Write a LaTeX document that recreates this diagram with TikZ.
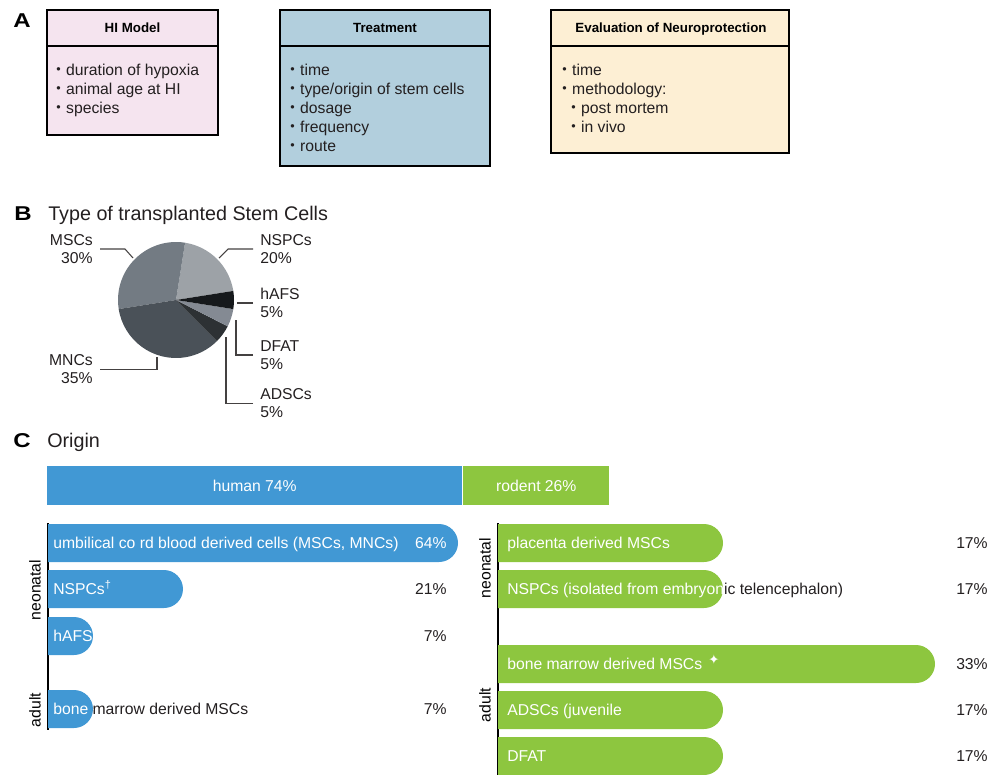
\documentclass[tikz,border=0pt]{standalone}
\usepackage{fontspec}
\setmainfont{Liberation Sans}
\newfontfamily\symfont{DejaVu Sans}
\usepackage{tikz}
\definecolor{ModelPink}{RGB}{245,228,239}
\definecolor{TreatBlue}{RGB}{178,207,221}
\definecolor{EvalCream}{RGB}{253,239,212}
\definecolor{HumanBlue}{RGB}{65,152,212}
\definecolor{RodentGreen}{RGB}{141,198,63}
\definecolor{TextDark}{RGB}{35,31,32}
\definecolor{PieMSC}{RGB}{115,123,131}
\definecolor{PieNSPC}{RGB}{157,162,167}
\definecolor{PieHAFS}{RGB}{22,25,28}
\definecolor{PieDFAT}{RGB}{132,138,147}
\definecolor{PieADSC}{RGB}{45,49,52}
\definecolor{PieMNC}{RGB}{74,81,88}
\newcommand{\dotb}{\makebox[0.35em][l]{\raisebox{0.2ex}{\scalebox{0.8}{\textbullet}}}\ }

\begin{document}
\begin{tikzpicture}[x=0.75pt, y=-0.75pt,
  txt/.style={font=\fontsize{11.8}{13.5}\selectfont, text=TextDark, inner sep=0pt},
  item/.style={txt, anchor=base west},
  hdr/.style={font=\fontsize{10}{12}\selectfont\bfseries, inner sep=0pt, anchor=base},
  panel/.style={font=\fontsize{15}{15}\selectfont\bfseries, inner sep=0pt, anchor=base},
  ptitle/.style={font=\fontsize{14.8}{16}\selectfont, text=TextDark, inner sep=0pt, anchor=base west},
  boxline/.style={draw=black, line width=1.2pt},
  leader/.style={draw=TextDark!85, line width=0.8pt},
  pielbl/.style={txt, inner xsep=5.25pt, inner ysep=0pt},
  orgbar/.style={txt, text=white, minimum height=29.25pt, anchor=north west},
  grp/.style={txt, text=black, rotate=90},
  grpaxis/.style={draw=black, line width=1.5pt}]

\useasboundingbox (0,0) rectangle (1001,775);

% A: study parameters
\node[panel] (pA) at (22,27) {\scalebox{1.2}[1]{A}};

\draw[boxline, fill=ModelPink] (47,10) rectangle (218,135);
\draw[boxline] (47,46) -- (218,46);
\node[hdr] (hiHead) at (132.5,32.7) {HI Model};
\foreach \t [count=\k] in {duration of hypoxia, animal age at HI, species}
  \node[item] (hi\k) at (56,{56.5+19*\k}) {\dotb\t};

\draw[boxline, fill=TreatBlue] (280,10) rectangle (490,166);
\draw[boxline] (280,46) -- (490,46);
\node[hdr] (trHead) at (385,32.7) {Treatment};
\foreach \t [count=\k] in {time, type/origin of stem cells, dosage, frequency, route}
  \node[item] (tr\k) at (290,{56.5+19*\k}) {\dotb\t};

\draw[boxline, fill=EvalCream] (551,10) rectangle (789,153);
\draw[boxline] (551,46) -- (789,46);
\node[hdr] (evHead) at (671,32.7) {Evaluation of Neuroprotection};
\node[item] (ev1) at (562,75.5) {\dotb time};
\node[item] (ev2) at (562,94.5) {\dotb methodology:};
\node[item] (ev3) at (571,113.5) {\dotb post mortem};
\node[item] (ev4) at (571,132.5) {\dotb in vivo};

% B: pie of stem cell types
\node[panel] (pB) at (23,220) {\scalebox{1.2}[1]{B}};
\node[ptitle] (tB) at (48,220) {Type of transplanted Stem Cells};

\begin{scope}[shift={(176,300)}, yscale=-1]
\foreach \a/\b/\c in {9/81/PieNSPC, 81/189/PieMSC, 189/315/PieMNC, 315/333/PieADSC, 333/351/PieDFAT, 351/369/PieHAFS}
  \fill[\c] (0,0) -- (\a:58) arc[start angle=\a, end angle=\b, radius=58] -- cycle;
\end{scope}

\coordinate (eMSC) at (133,258);
\coordinate (eNSPC) at (219,258);
\coordinate (eHAFS) at (237,302);
\coordinate (eDFAT) at (236,320);
\coordinate (eADSC) at (226,337);
\coordinate (eMNC) at (157,357);

\node[pielbl, anchor=east, align=right] (lMSC) at (100,249) {MSCs\\30\%};
\node[pielbl, anchor=west, align=left] (lNSPC) at (253,249) {NSPCs\\20\%};
\node[pielbl, anchor=west, align=left] (lHAFS) at (253,303) {hAFS\\5\%};
\node[pielbl, anchor=west, align=left] (lDFAT) at (253,355) {DFAT\\5\%};
\node[pielbl, anchor=west, align=left] (lADSC) at (253,403.5) {ADSCs\\5\%};
\node[pielbl, anchor=east, align=right] (lMNC) at (100,369.5) {MNCs\\35\%};

\draw[leader] (lMSC.east) -- ++(25,0) -- (eMSC);
\draw[leader] (lNSPC.west) -- ++(-25,0) -- (eNSPC);
\draw[leader] (lHAFS.west) -- (eHAFS |- lHAFS.west);
\draw[leader] (lDFAT.west) -| (eDFAT);
\draw[leader] (lADSC.west) -| (eADSC);
\draw[leader] (lMNC.east) -| (eMNC);

% C: origin of the cells
\node[panel] (pC) at (22,447) {\scalebox{1.2}[1]{C}};
\node[ptitle] (tC) at (47,447) {Origin};

\node[orgbar, fill=HumanBlue, minimum width=311.25pt] (human) at (47,466) {human 74\%};
\node[orgbar, fill=RodentGreen, minimum width=109.5pt] (rodent) at (463,466) {rodent 26\%};

\draw[grpaxis] (48,523) -- (48,730);
\draw[grpaxis] (498,523) -- (498,775);
\node[grp] (neoL) at (35,590) {neonatal};
\node[grp] (adultL) at (35,710) {adult};
\node[grp] (neoR) at (485,568) {neonatal};
\node[grp] (adultR) at (485,705) {adult};

\foreach \n/\xa/\yt/\xe/\txt/\pc in {
  1/48/524/458/{umbilical co rd blood derived cells (MSCs, MNCs)}/64,
  2/48/570/183/{NSPCs\textsuperscript{\textdagger}}/21,
  3/48/617/93/{hAFS}/7,
  4/48/690/93/{bone marrow derived MSCs}/7,
  5/498/524/723/{placenta derived MSCs}/17,
  6/498/570/723/{NSPCs (isolated from embryonic telencephalon)}/17,
  7/498/645/935/{bone marrow derived MSCs\hspace{4.5pt}\raisebox{3.5pt}{\symfont\fontsize{10}{10}\selectfont ✦}}/33,
  8/498/691/723/{ADSCs (juvenile}/17,
  9/498/737/723/{DFAT}/17}{
  \ifnum\xa<100 \def\col{HumanBlue}\def\xt{53}\def\xp{447}\else\def\col{RodentGreen}\def\xt{507}\def\xp{988}\fi
  \node[item] (bt\n) at (\xt,{\yt+24.5}) {\txt};
  \node[txt, anchor=base east] (bp\n) at (\xp,{\yt+24.5}) {\pc\%};
  \fill[\col] (\xa,\yt) -- ({\xe-19},\yt) arc[start angle=-90, end angle=90, radius=19] -- (\xa,{\yt+38}) -- cycle;
  \begin{scope}
    \clip (\xa,\yt) -- ({\xe-19},\yt) arc[start angle=-90, end angle=90, radius=19] -- (\xa,{\yt+38}) -- cycle;
    \node[item, text=white] (bw\n) at (\xt,{\yt+24.5}) {\txt};
    \node[txt, text=white, anchor=base east] (bq\n) at (\xp,{\yt+24.5}) {\pc\%};
  \end{scope}
}

\end{tikzpicture}
\end{document}
